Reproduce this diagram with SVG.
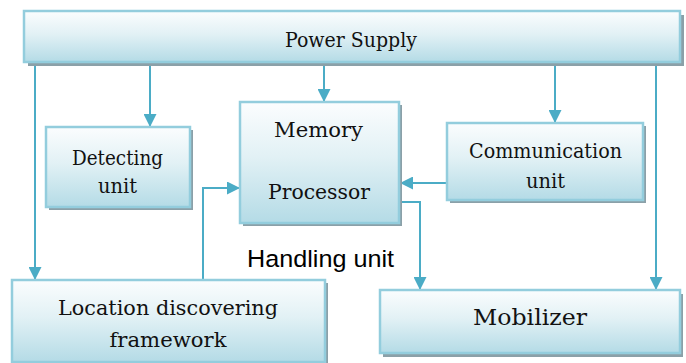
<svg xmlns="http://www.w3.org/2000/svg" width="686" height="363" viewBox="0 0 686 363">
<defs>
<linearGradient id="g" x1="0" y1="0" x2="0" y2="1">
<stop offset="0" stop-color="#fbfdfe"/>
<stop offset="0.45" stop-color="#e2f1f5"/>
<stop offset="1" stop-color="#b4dbe6"/>
</linearGradient>
<marker id="ah" viewBox="0 0 13 13" refX="13" refY="6.5" markerWidth="13" markerHeight="13" markerUnits="userSpaceOnUse" orient="auto">
<path d="M0,0 L13,6.5 L0,13 Z" fill="#4bacc6"/>
</marker>
<style>
.sh{fill:#8ba0a8}
.bx{fill:url(#g);stroke:#93cddd;stroke-width:2.5}
.t{font-family:"DejaVu Serif","Liberation Serif",serif;fill:#111;text-anchor:middle}
.c{fill:none;stroke:#4bacc6;stroke-width:2}
</style>
</defs>
<rect width="686" height="363" fill="#fff"/>
<g id="connectors">
<path class="c" d="M35,64 V280" marker-end="url(#ah)"/>
<path class="c" d="M150,64 V127" marker-end="url(#ah)"/>
<path class="c" d="M324,64 V102" marker-end="url(#ah)"/>
<path class="c" d="M555,64 V123" marker-end="url(#ah)"/>
<path class="c" d="M656,64 V290" marker-end="url(#ah)"/>
<path class="c" d="M447,183 H400" marker-end="url(#ah)"/>
<path class="c" d="M203,280 V188 H240" marker-end="url(#ah)"/>
<path class="c" d="M400,202 H420 V290" marker-end="url(#ah)"/>
</g>
<g id="power">
<rect class="sh" x="28" y="15" width="656" height="51"/>
<rect class="bx" x="24" y="11" width="656" height="51"/>
<text class="t" x="351" y="47" font-size="20" textLength="132" lengthAdjust="spacingAndGlyphs">Power Supply</text>
</g>
<g id="detecting">
<rect class="sh" x="49" y="130" width="144" height="80"/>
<rect class="bx" x="46" y="127" width="144" height="80"/>
<text class="t" x="117.5" y="165" font-size="19.5" textLength="91" lengthAdjust="spacingAndGlyphs">Detecting</text>
<text class="t" x="117.5" y="193" font-size="19.5" textLength="39" lengthAdjust="spacingAndGlyphs">unit</text>
</g>
<g id="processor">
<rect class="sh" x="243" y="105" width="159" height="121"/>
<rect class="bx" x="240" y="102" width="159" height="121"/>
<text class="t" x="318.5" y="137" font-size="20.5" textLength="89" lengthAdjust="spacingAndGlyphs">Memory</text>
<text class="t" x="319" y="199" font-size="20.5" textLength="102" lengthAdjust="spacingAndGlyphs">Processor</text>
</g>
<g id="communication">
<rect class="sh" x="450" y="126" width="196" height="77"/>
<rect class="bx" x="447" y="123" width="196" height="77"/>
<text class="t" x="545.5" y="158" font-size="19.5" textLength="153" lengthAdjust="spacingAndGlyphs">Communication</text>
<text class="t" x="545.5" y="188" font-size="19.5" textLength="39" lengthAdjust="spacingAndGlyphs">unit</text>
</g>
<g id="handling">
<text x="320.5" y="267" font-family="Liberation Sans, Arial, sans-serif" font-size="24.5" text-anchor="middle" fill="#000" textLength="147" lengthAdjust="spacingAndGlyphs">Handling unit</text>
</g>
<g id="location">
<rect class="sh" x="15" y="283" width="313" height="84"/>
<rect class="bx" x="12" y="280" width="313" height="82"/>
<text class="t" x="168" y="315" font-size="20.5" textLength="220" lengthAdjust="spacingAndGlyphs">Location discovering</text>
<text class="t" x="168" y="347" font-size="20.5" textLength="117" lengthAdjust="spacingAndGlyphs">framework</text>
</g>
<g id="mobilizer">
<rect class="sh" x="383" y="294" width="300" height="63"/>
<rect class="bx" x="380" y="290" width="300" height="63"/>
<text class="t" x="530" y="325" font-size="23" textLength="114" lengthAdjust="spacingAndGlyphs">Mobilizer</text>
</g>
</svg>
